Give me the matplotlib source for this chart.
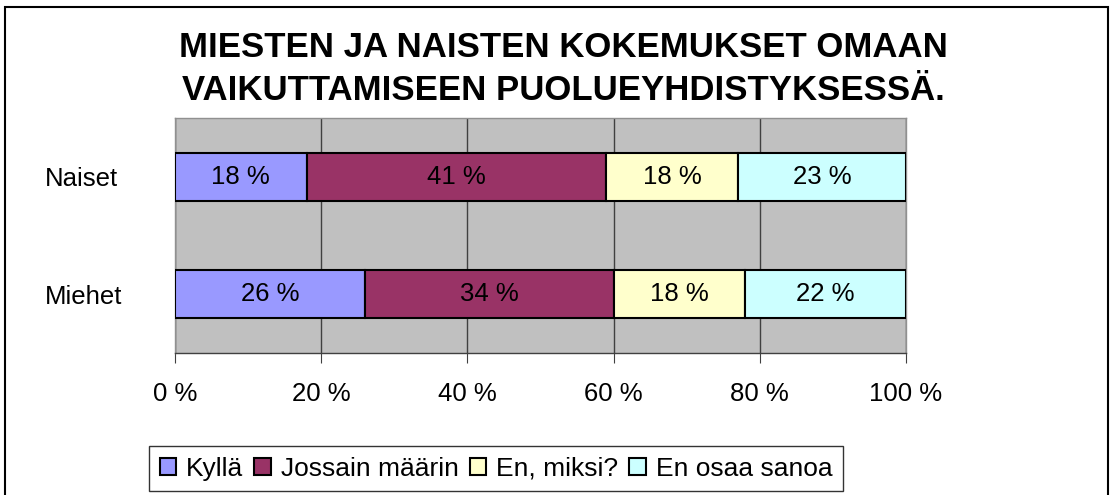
import matplotlib
matplotlib.use('Agg')
import matplotlib.pyplot as plt
from matplotlib.patches import Rectangle
import numpy as np

plt.rcParams['font.family'] = ['Liberation Sans', 'DejaVu Sans']

groups = ['Miehet', 'Naiset']
series = ['Kyllä', 'Jossain määrin', 'En, miksi?', 'En osaa sanoa']
values = {
    'Kyllä': [26, 18],
    'Jossain määrin': [34, 41],
    'En, miksi?': [18, 18],
    'En osaa sanoa': [22, 23],
}
colors = ['#9999FF', '#993366', '#FFFFCC', '#CCFFFF']
xticks = [0, 20, 40, 60, 80, 100]
title_lines = ['MIESTEN JA NAISTEN KOKEMUKSET OMAAN',
               'VAIKUTTAMISEEN PUOLUEYHDISTYKSESSÄ.']

fig = plt.figure(figsize=(11.13, 4.95), dpi=100)
W, H = 1113, 495
# plot area in pixels: x 175..906, y 118..353
ax = fig.add_axes([175 / W, 1 - 353 / H, (906 - 175) / W, (353 - 118) / H])
ax.set_facecolor('#C0C0C0')

fs = 18.5
y = np.arange(len(groups))
left = np.zeros(len(groups))
for name, col in zip(series, colors):
    v = np.array(values[name], dtype=float)
    ax.barh(y, v, left=left, height=0.41, color=col, edgecolor='black',
            linewidth=1.5, label=name, zorder=3)
    for yi, li, vi in zip(y, left, v):
        ax.text(li + vi / 2, yi, f'{int(vi)} %', ha='center', va='center',
                fontsize=fs, color='black', zorder=4)
    left += v

ax.set_xlim(0, 100)
ax.set_ylim(-0.5, 1.5)
ax.set_xticks(xticks)
ax.set_xticklabels([f'{t} %' for t in xticks], fontsize=fs)
ax.set_yticks(y)
ax.set_yticklabels(groups, fontsize=fs)
for lab in ax.get_yticklabels():
    lab.set_horizontalalignment('left')
ax.tick_params(axis='y', length=0, pad=(175 - 45) * 0.72)
ax.tick_params(axis='x', length=7, color='#404040', pad=14)
ax.grid(axis='x', color='#404040', linewidth=1, zorder=1)
ax.set_axisbelow(True)
for s in ax.spines.values():
    s.set_color('#909090')
    s.set_linewidth(1)
ax.spines['bottom'].set_color('#404040')

fig.text(563 / W, 1 - 57 / H, title_lines[0], ha='center', va='baseline',
         fontsize=25, fontweight='bold')
fig.text(563 / W, 1 - 100 / H, title_lines[1], ha='center', va='baseline',
         fontsize=25, fontweight='bold')

leg = fig.legend(loc='upper left', bbox_to_anchor=(149 / W, 1 - 446 / H),
                 borderaxespad=0, ncol=4, fontsize=19, frameon=True,
                 fancybox=False, edgecolor='black', handlelength=0.62,
                 handleheight=0.62, handletextpad=0.38, columnspacing=0.42,
                 borderpad=0.4)
leg.get_frame().set_linewidth(1)

fig.patches.append(Rectangle((5 / W, -0.02), (1108 - 5) / W, 1.02 - 7 / H,
                             transform=fig.transFigure, fill=False,
                             edgecolor='black', linewidth=1.5))

fig.savefig('out.png', dpi=100)
